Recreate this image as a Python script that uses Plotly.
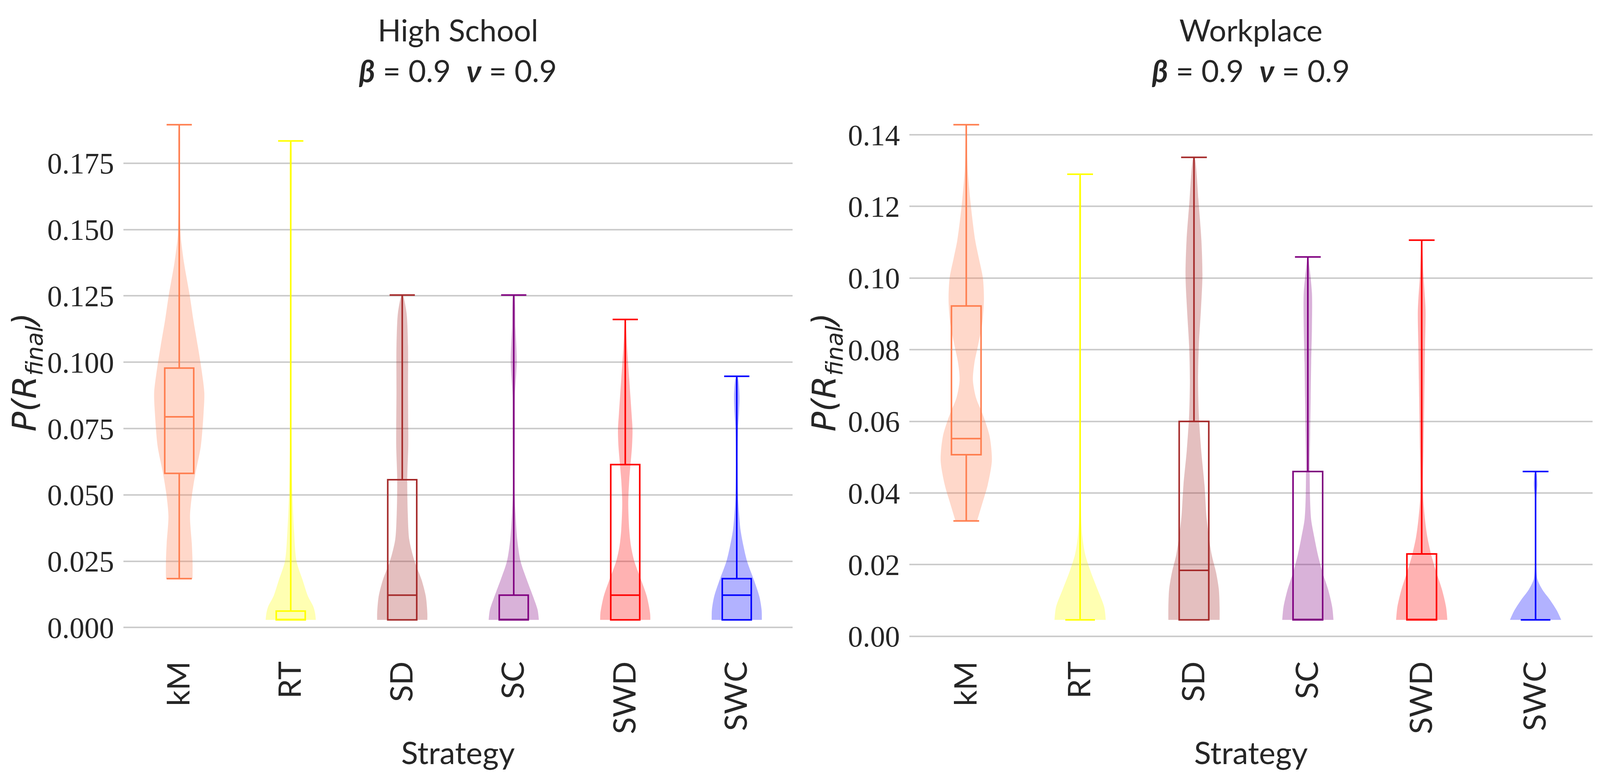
import plotly.graph_objects as go

# ---------------- data ----------------
CATEGORIES = ["kM", "RT", "SD", "SC", "SWD", "SWC"]

# box statistics (High School)
HS_MIN = [0.0184, 0.0029, 0.0029, 0.0029, 0.0029, 0.0029]
HS_Q1 = [0.0581, 0.0029, 0.0029, 0.0029, 0.0029, 0.0029]
HS_MED = [0.0794, 0.0029, 0.0122, 0.0029, 0.0122, 0.0122]
HS_Q3 = [0.0978, 0.0062, 0.0557, 0.0122, 0.0614, 0.0184]
HS_MAX = [0.1895, 0.1834, 0.1253, 0.1253, 0.1161, 0.0947]

# box statistics (Workplace)
WP_MIN = [0.0322, 0.0046, 0.0046, 0.0046, 0.0046, 0.0046]
WP_Q1 = [0.0507, 0.0046, 0.0046, 0.0046, 0.0046, 0.0046]
WP_MED = [0.0552, 0.0046, 0.0184, 0.0046, 0.0046, 0.0046]
WP_Q3 = [0.0922, 0.0046, 0.0600, 0.0460, 0.0230, 0.0046]
WP_MAX = [0.1428, 0.1290, 0.1337, 0.1059, 0.1106, 0.0460]

# relative density profiles (value level, density normalised to 1) - High School
HS_KM_Y = [0.0184, 0.0250, 0.0318, 0.0419, 0.0501, 0.0583, 0.0683, 0.0809, 0.0885, 0.0978,
           0.1061, 0.1161, 0.1251, 0.1375, 0.1463, 0.1500, 0.1627, 0.1895]
HS_KM_D = [0.53, 0.53, 0.50, 0.43, 0.51, 0.65, 0.86, 0.97, 1.00, 0.88,
           0.74, 0.56, 0.42, 0.19, 0.07, 0.045, 0.02, 0.01]
HS_RT_Y = [0.0029, 0.0054, 0.0079, 0.0117, 0.0180, 0.0250, 0.0368, 0.0500, 0.0683, 0.1000, 0.1400, 0.1834]
HS_RT_D = [1.00, 0.97, 0.90, 0.69, 0.47, 0.23, 0.13, 0.07, 0.035, 0.018, 0.012, 0.01]
HS_SD_Y = [0.0029, 0.0054, 0.0117, 0.0180, 0.0250, 0.0331, 0.0430, 0.0557, 0.0683, 0.0752,
           0.0885, 0.1061, 0.1187, 0.1253]
HS_SD_D = [1.00, 1.00, 0.94, 0.77, 0.49, 0.28, 0.22, 0.20, 0.24, 0.24,
           0.23, 0.23, 0.17, 0.02]
HS_SC_Y = [0.0029, 0.0067, 0.0117, 0.0180, 0.0250, 0.0331, 0.0430, 0.0500, 0.0750, 0.0875,
           0.1004, 0.1130, 0.1253]
HS_SC_D = [1.00, 0.95, 0.77, 0.52, 0.27, 0.14, 0.07, 0.04, 0.045, 0.05,
           0.12, 0.07, 0.02]
HS_SWD_Y = [0.0029, 0.0054, 0.0117, 0.0180, 0.0250, 0.0306, 0.0368, 0.0469, 0.0557, 0.0683,
            0.0746, 0.0809, 0.0935, 0.1061, 0.1137, 0.1161]
HS_SWD_D = [1.00, 0.99, 0.86, 0.63, 0.36, 0.23, 0.16, 0.12, 0.16, 0.27,
            0.29, 0.25, 0.16, 0.07, 0.03, 0.01]
HS_SWC_Y = [0.0029, 0.0067, 0.0117, 0.0180, 0.0250, 0.0306, 0.0368, 0.0430, 0.0495, 0.0620,
            0.0746, 0.0809, 0.0872, 0.0935, 0.0947]
HS_SWC_D = [1.00, 0.99, 0.90, 0.68, 0.41, 0.27, 0.15, 0.09, 0.05, 0.036,
            0.05, 0.09, 0.11, 0.06, 0.01]

# relative density profiles - Workplace
WP_KM_Y = [0.0322, 0.0374, 0.0423, 0.0491, 0.0559, 0.0618, 0.0666, 0.0715, 0.0764, 0.0812,
           0.0871, 0.0939, 0.1000, 0.1056, 0.1105, 0.1202, 0.1300, 0.1397, 0.1428]
WP_KM_D = [0.42, 0.64, 0.84, 1.00, 0.91, 0.65, 0.38, 0.26, 0.32, 0.46,
           0.62, 0.69, 0.65, 0.49, 0.35, 0.18, 0.06, 0.02, 0.01]
WP_RT_Y = [0.0046, 0.0082, 0.0131, 0.0179, 0.0228, 0.0277, 0.0325, 0.0520, 0.1007, 0.1290]
WP_RT_D = [1.00, 0.94, 0.68, 0.42, 0.20, 0.09, 0.045, 0.02, 0.025, 0.01]
WP_SD_Y = [0.0046, 0.0082, 0.0131, 0.0179, 0.0228, 0.0325, 0.0423, 0.0520, 0.0618, 0.0715,
           0.0812, 0.0910, 0.1007, 0.1105, 0.1202, 0.1337]
WP_SD_D = [1.00, 1.00, 0.97, 0.86, 0.69, 0.50, 0.41, 0.28, 0.19, 0.16,
           0.19, 0.27, 0.33, 0.29, 0.19, 0.02]
WP_SC_Y = [0.0046, 0.0082, 0.0131, 0.0179, 0.0228, 0.0277, 0.0325, 0.0374, 0.0471, 0.0569,
           0.0666, 0.0764, 0.0861, 0.0959, 0.1046, 0.1059]
WP_SC_D = [1.00, 0.95, 0.79, 0.57, 0.39, 0.25, 0.13, 0.09, 0.07, 0.09,
           0.11, 0.13, 0.16, 0.16, 0.04, 0.02]
WP_SWD_Y = [0.0046, 0.0082, 0.0131, 0.0179, 0.0228, 0.0277, 0.0325, 0.0374, 0.0423, 0.0520,
            0.0618, 0.0715, 0.0812, 0.0910, 0.1007, 0.1085, 0.1106]
WP_SWD_D = [1.00, 0.95, 0.79, 0.57, 0.37, 0.22, 0.13, 0.07, 0.05, 0.07,
            0.09, 0.11, 0.13, 0.15, 0.07, 0.03, 0.01]
WP_SWC_Y = [0.0046, 0.0072, 0.0101, 0.0131, 0.0160, 0.0228, 0.0325, 0.0394, 0.0423, 0.0452, 0.0460]
WP_SWC_D = [1.00, 0.83, 0.57, 0.26, 0.07, 0.026, 0.026, 0.035, 0.07, 0.045, 0.01]

HS_TICKS = [0.0, 0.025, 0.05, 0.075, 0.1, 0.125, 0.15, 0.175]
WP_TICKS = [0.0, 0.02, 0.04, 0.06, 0.08, 0.10, 0.12, 0.14]

PANEL_TITLES = ["High School", "Workplace"]
PARAM_LINE = "<b><i>β</i></b> = 0.9\u00a0\u00a0<b><i>ν</i></b> = 0.9"
X_TITLE = "Strategy"
Y_TITLE = "P(R<sub>final</sub>)"

# ---------------- style ----------------
COLORS = ["#FF7F50", "#FFFF00", "#A52A2A", "#800080", "#FF0000", "#0000FF"]
VIOLIN_ALPHA = 0.3
VIOLIN_HALF = 0.225
BOX_WIDTH = 0.26
TEXT = "#262626"
SANS = "Lato"
# the page is photographed in a viewport 4096 px wide; layout is laid out in
# reference pixels (4520 wide) and expressed as fractions of the width
REF_W = 4520
W, H = 4096, 1989
SX = W / REF_W
FS = 0.95  # font scale for the narrower viewport


def rgba(hexc, a):
    h = hexc.lstrip("#")
    r, g, b = int(h[0:2], 16), int(h[2:4], 16), int(h[4:6], 16)
    return f"rgba({r},{g},{b},{a})"


hs_profiles = [(HS_KM_Y, HS_KM_D), (HS_RT_Y, HS_RT_D), (HS_SD_Y, HS_SD_D),
               (HS_SC_Y, HS_SC_D), (HS_SWD_Y, HS_SWD_D), (HS_SWC_Y, HS_SWC_D)]
wp_profiles = [(WP_KM_Y, WP_KM_D), (WP_RT_Y, WP_RT_D), (WP_SD_Y, WP_SD_D),
               (WP_SC_Y, WP_SC_D), (WP_SWD_Y, WP_SWD_D), (WP_SWC_Y, WP_SWC_D)]

panels = [
    dict(profiles=hs_profiles, q=(HS_MIN, HS_Q1, HS_MED, HS_Q3, HS_MAX), xa="x", ya="y"),
    dict(profiles=wp_profiles, q=(WP_MIN, WP_Q1, WP_MED, WP_Q3, WP_MAX), xa="x2", ya="y2"),
]

fig = go.Figure()

for p in panels:
    for i, (ys, ds) in enumerate(p["profiles"]):
        xs = [i + VIOLIN_HALF * d for d in ds] + [i - VIOLIN_HALF * d for d in reversed(ds)]
        yy = list(ys) + list(reversed(ys))
        fig.add_trace(go.Scatter(
            x=xs, y=yy, mode="lines", fill="toself",
            fillcolor=rgba(COLORS[i], VIOLIN_ALPHA),
            line=dict(width=0, shape="spline", smoothing=0.8, color=rgba(COLORS[i], 0)),
            hoverinfo="skip", xaxis=p["xa"], yaxis=p["ya"], showlegend=False))
    mn, q1, md, q3, mx = p["q"]
    for i in range(len(CATEGORIES)):
        fig.add_trace(go.Box(
            x=[i], lowerfence=[mn[i]], q1=[q1[i]], median=[md[i]], q3=[q3[i]],
            upperfence=[mx[i]], boxpoints=False, width=BOX_WIDTH, whiskerwidth=0.87,
            fillcolor="rgba(0,0,0,0)", line=dict(color=COLORS[i], width=4),
            hoverinfo="skip", xaxis=p["xa"], yaxis=p["ya"], showlegend=False))


def yrange(mins, maxs):
    lo, hi = min(mins), max(maxs)
    pad = 0.05 * (hi - lo)
    return [lo - pad, hi + pad]


xcommon = dict(range=[-0.5, 5.5], tickmode="array", tickvals=list(range(len(CATEGORIES))),
               ticktext=CATEGORIES, tickangle=-90, showgrid=False, zeroline=False,
               showline=False, ticks="", ticklabelstandoff=26, automargin=False,
               tickfont=dict(family=SANS, size=84 * FS, color=TEXT))


def ycommon(ticks, fmt, rng):
    return dict(range=rng, tickmode="array", tickvals=ticks,
                ticktext=[fmt.format(t) for t in ticks], showgrid=True,
                gridcolor="#cccccc", gridwidth=4, zeroline=False, showline=False,
                ticks="", ticklabelstandoff=int(26 * SX), automargin=False,
                tickfont=dict(family="Liberation Serif", size=80 * FS, color=TEXT))


ydom = [1 - 1642 / H, 1 - 248 / H]
fig.update_layout(
    width=W, height=H, margin=dict(l=0, r=0, t=0, b=0, pad=0, autoexpand=False),
    paper_bgcolor="white", plot_bgcolor="white", showlegend=False, boxmode="overlay",
    xaxis=dict(domain=[340 / REF_W, 2230 / REF_W], anchor="y", **xcommon),
    xaxis2=dict(domain=[2560 / REF_W, 4490 / REF_W], anchor="y2", **xcommon),
    yaxis=dict(domain=ydom, anchor="x", **ycommon(HS_TICKS, "{:.3f}", yrange(HS_MIN, HS_MAX))),
    yaxis2=dict(domain=ydom, anchor="x2", **ycommon(WP_TICKS, "{:.2f}", yrange(WP_MIN, WP_MAX))),
)

centers = [(340 + 2230) / 2 / REF_W, (2560 + 4490) / 2 / REF_W]
ylabel_x = [67 / REF_W, 2326 / REF_W]
ann = []
for k in range(2):
    ann.append(dict(text=PANEL_TITLES[k], x=centers[k], y=1 - 68 / H, xref="paper", yref="paper",
                    showarrow=False, xanchor="center", yanchor="middle",
                    font=dict(family=SANS, size=82 * FS, color=TEXT)))
    ann.append(dict(text=PARAM_LINE, x=centers[k], y=1 - 172 / H, xref="paper", yref="paper",
                    showarrow=False, xanchor="center", yanchor="middle",
                    font=dict(family=SANS, size=82 * FS, color=TEXT)))
    ann.append(dict(text=X_TITLE, x=centers[k], y=1 - 1917 / H, xref="paper", yref="paper",
                    showarrow=False, xanchor="center", yanchor="middle",
                    font=dict(family=SANS, size=84 * FS, color=TEXT)))
    ann.append(dict(text=Y_TITLE, x=ylabel_x[k], y=1 - 945 / H, xref="paper", yref="paper",
                    showarrow=False, xanchor="center", yanchor="middle", textangle=-90,
                    font=dict(family="DejaVu Sans", size=89 * FS, color=TEXT, style="italic")))
fig.update_layout(annotations=ann)

fig.write_html("out.html")
